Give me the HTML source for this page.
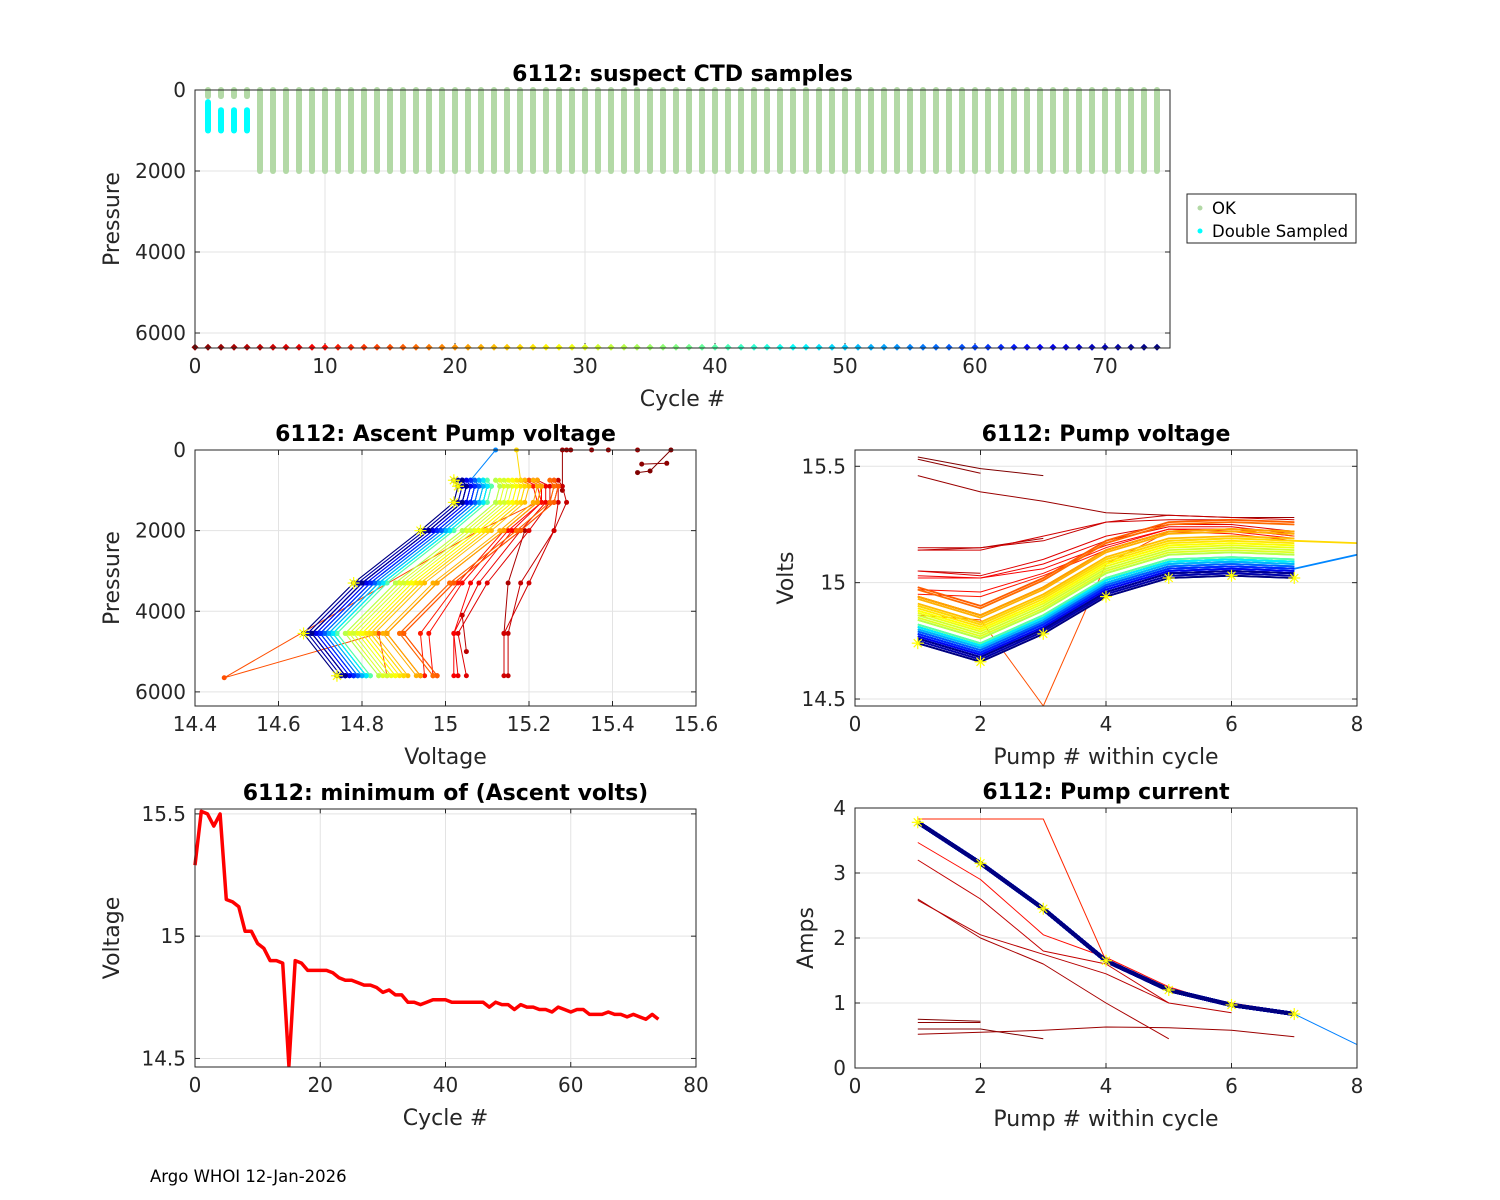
<!DOCTYPE html>
<html><head><meta charset="utf-8">
<style>
html,body{margin:0;padding:0;background:#fff;}
svg{display:block;font-family:"DejaVu Sans","Liberation Sans",sans-serif;}
</style></head>
<body>
<svg id="fig" width="1500" height="1200" viewBox="0 0 1500 1200" xmlns="http://www.w3.org/2000/svg">
<rect x="0" y="0" width="1500" height="1200" fill="#fff"/>
<text x="150" y="1182" font-size="16.5" fill="#000">Argo WHOI 12-Jan-2026</text>
</svg>
<script>
// ---------------- data ----------------
const nCycles = 75;
const cycleTicks = [0,10,20,30,40,50,60,70];
// minimum ascent voltage per cycle (cycles 0..74)
const minVolt = [15.29,15.51,15.50,15.45,15.50,15.15,15.14,15.12,15.02,15.02,14.97,14.95,14.90,14.90,14.89,14.47,14.90,14.89,14.86,14.86,
14.86,14.86,14.85,14.83,14.82,14.82,14.81,14.80,14.80,14.79,14.77,14.78,14.76,14.76,14.73,14.73,14.72,14.73,14.74,14.74,
14.74,14.73,14.73,14.73,14.73,14.73,14.73,14.71,14.73,14.72,14.72,14.70,14.72,14.71,14.71,14.70,14.70,14.69,14.71,14.70,
14.69,14.70,14.70,14.68,14.68,14.68,14.69,14.68,14.68,14.67,14.68,14.67,14.66,14.68,14.66];
// pump voltage offset above the minimum, pumps 1..7
const pumpOffset = [0.08,0.0,0.12,0.28,0.36,0.37,0.36];
// anomalous early cycles (explicit pump voltages)
const earlyPumpV = {
 0:[15.54,15.49,15.46],
 1:[15.53,15.47],
 2:[15.46,15.39,15.35,15.30,15.29,15.28,15.28],
 3:[15.14,15.15,15.19],
 4:[15.05,15.04],
 5:[15.15,15.15,15.18,15.26,15.29,15.28,15.27],
 6:[15.14,15.14,15.20,15.26,15.27,15.27],
 7:[15.05,15.03,15.10,15.20,15.25,15.25,15.22],
 8:[15.03,15.02,15.08,15.18,15.24,15.24,15.21],
 9:[15.02,15.02,15.06,15.16,15.23,15.23,15.20],
 10:[14.97,14.96,15.04,15.15,15.23,15.22,15.19],
 11:[14.95,14.94,15.03,15.14,15.22,15.21,15.18],
 15:[14.86,14.84,14.47,15.08,15.22,15.23,15.20]
};
const pumpPressure = [5600,4550,3300,2000,1300,900,750];
const earlyPressure = {0:[0,520,560],1:[330,350],2:[0,0,0,0,0,0,1000],3:[4550,3300,2000],4:[5000,4100],15:[5600,4550,5650,2000,1300,900,750]};
const pumpCurrentProfile = [3.78,3.15,2.45,1.65,1.20,0.97,0.83];
const anomCurrents = [
 [0.75,0.72],[0.70,0.70],[0.60,0.60,0.45],[0.52,0.55,0.58,0.63,0.62,0.58,0.48],
 [2.60,2.00,1.60,1.00,0.45],[2.58,2.05,1.75,1.45,1.00,0.85],[3.20,2.60,1.80,1.60,1.00],
 [3.83,3.83,3.83,1.65,1.20,1.00,0.85],[3.47,2.90,2.05,1.70,1.25,0.95,0.85]];
const anomCurrentCycles = [0,1,0,2,3,4,5,12,10];
// cycles with an 8th pump (surface, pressure 0)
const pump8Cycles = [25,55];
const pump8Volt = [15.17,15.12];
// ---------------- helpers ----------------
const NS="http://www.w3.org/2000/svg", fig=document.getElementById('fig');
function el(tag, attrs, parent){const e=document.createElementNS(NS,tag);for(const k in attrs)e.setAttribute(k,attrs[k]);(parent||fig).appendChild(e);return e;}
function clamp(v){return Math.max(0,Math.min(1,v));}
function jet(c){const t=1-c/(nCycles-1);const r=clamp(1.5-Math.abs(4*t-3)),g=clamp(1.5-Math.abs(4*t-2)),b=clamp(1.5-Math.abs(4*t-1));
 return 'rgb('+Math.round(r*255)+','+Math.round(g*255)+','+Math.round(b*255)+')';}
function pumpV(c){ if(earlyPumpV[c]) return earlyPumpV[c]; return pumpOffset.map(o=>+(minVolt[c]+o).toFixed(3)); }
function pumpP(c){ return earlyPressure[c]||pumpPressure; }
function axes(o){
 const g=el('g',{});
 const sx=v=>o.x0+(v-o.xmin)/(o.xmax-o.xmin)*(o.x1-o.x0);
 const sy=o.rev? v=>o.y0+(v-o.ymin)/(o.ymax-o.ymin)*(o.y1-o.y0) : v=>o.y1-(v-o.ymin)/(o.ymax-o.ymin)*(o.y1-o.y0);
 el('rect',{x:o.x0,y:o.y0,width:o.x1-o.x0,height:o.y1-o.y0,fill:'#fff'},g);
 o.xt.forEach(t=>{const x=sx(t);
  const l=el('line',{x1:x,x2:x,y1:o.y0,y2:o.y1,stroke:'#e3e3e3','stroke-width':1},g);
  el('line',{x1:x,x2:x,y1:o.y1,y2:o.y1-5,stroke:'#262626'},g);el('line',{x1:x,x2:x,y1:o.y0,y2:o.y0+5,stroke:'#262626'},g);
  const tx=el('text',{x:x,y:o.y1+25,'font-size':20,'text-anchor':'middle',fill:'#262626'},g);tx.textContent=t;
  });
 o.yt.forEach((t,i)=>{const y=sy(t);
  const l=el('line',{x1:o.x0,x2:o.x1,y1:y,y2:y,stroke:'#e3e3e3','stroke-width':1},g);
  el('line',{x1:o.x0,x2:o.x0+5,y1:y,y2:y,stroke:'#262626'},g);el('line',{x1:o.x1,x2:o.x1-5,y1:y,y2:y,stroke:'#262626'},g);
  const tx=el('text',{x:o.x0-9,y:y+7,'font-size':20,'text-anchor':'end',fill:'#262626'},g);tx.textContent=t;
  });
 const tt=el('text',{x:(o.x0+o.x1)/2,y:o.y0-9,'font-size':22,'font-weight':'bold','text-anchor':'middle',fill:'#000'},g);tt.textContent=o.title;
 
 const xl=el('text',{x:(o.x0+o.x1)/2,y:o.y1+58,'font-size':22,'text-anchor':'middle',fill:'#262626'},g);xl.textContent=o.xlabel;
 
 const yx=o.x0-o.ylOff, yy=(o.y0+o.y1)/2;
 const yl=el('text',{x:yx,y:yy,'font-size':22,'text-anchor':'middle',fill:'#262626',transform:'rotate(-90 '+yx+' '+yy+')'},g);yl.textContent=o.ylabel;
 
 const plot=el('g',{},g);
 o.finish=()=>{const b=el('rect',{x:o.x0,y:o.y0,width:o.x1-o.x0,height:o.y1-o.y0,fill:'none',stroke:'#262626','stroke-width':1},g);};
 return {sx,sy,plot,o};
}
function poly(parent,pts,color,w,name){const p=el('polyline',{points:pts.map(q=>q[0].toFixed(1)+','+q[1].toFixed(1)).join(' '),fill:'none',stroke:color,'stroke-width':w,'stroke-linejoin':'round'},parent);
 return p;}
function star(parent,x,y){const g=el('g',{stroke:'#ffff00','stroke-width':1.2},parent);
 el('line',{x1:x-6,x2:x+6,y1:y,y2:y},g);el('line',{x1:x,x2:x,y1:y-6,y2:y+6},g);el('line',{x1:x-4,x2:x+4,y1:y-4,y2:y+4},g);el('line',{x1:x-4,x2:x+4,y1:y+4,y2:y-4},g);}
// ---------------- top: suspect CTD samples ----------------
(function(){
 const A=axes({name:'ctd-samples-chart',x0:195,x1:1170,y0:90,y1:348,xmin:0,xmax:75,ymin:0,ymax:6370,rev:true,xt:cycleTicks,yt:[0,2000,4000,6000],
  title:'6112: suspect CTD samples',xlabel:'Cycle #',ylabel:'Pressure',ylOff:76});
 for(let c=1;c<nCycles;c++){const x=A.sx(c);
  if(c<5){ const l=el('line',{x1:x,x2:x,y1:A.sy(0),y2:A.sy(150),stroke:'#b3d9a6','stroke-width':6,'stroke-linecap':'round'},A.plot);
   const d=el('line',{x1:x,x2:x,y1:A.sy(c==1?300:500),y2:A.sy(1000),stroke:'#00ffff','stroke-width':6,'stroke-linecap':'round'},A.plot);}
  else { const l=el('line',{x1:x,x2:x,y1:A.sy(0),y2:A.sy(2000),stroke:'#b3d9a6','stroke-width':6,'stroke-linecap':'round'},A.plot);}
 }
 for(let c=0;c<nCycles;c++){const x=A.sx(c),y=A.sy(6350);
  const d=el('path',{d:'M'+x+' '+(y-3.5)+'L'+(x+3.5)+' '+y+'L'+x+' '+(y+3.5)+'L'+(x-3.5)+' '+y+'Z',fill:jet(c)},A.plot);}
 A.o.finish();
 const lg=el('g',{});
 el('rect',{x:1187,y:194,width:169,height:49,fill:'#fff',stroke:'#262626'},lg);
 el('circle',{cx:1200,cy:208,r:2.5,fill:'#b3d9a6'},lg);el('circle',{cx:1200,cy:231,r:2.5,fill:'#00ffff'},lg);
 let t=el('text',{x:1212,y:214,'font-size':16.5,fill:'#000'},lg);t.textContent='OK';
 t=el('text',{x:1212,y:237,'font-size':16.5,fill:'#000'},lg);t.textContent='Double Sampled';
})();
// ---------------- middle-left: ascent pump voltage ----------------
(function(){
 const A=axes({name:'ascent-pump-voltage-chart',x0:195,x1:696,y0:450,y1:706,xmin:14.4,xmax:15.6,ymin:0,ymax:6350,rev:true,xt:[14.4,14.6,14.8,15,15.2,15.4,15.6],yt:[0,2000,4000,6000],
  title:'6112: Ascent Pump voltage',xlabel:'Voltage',ylabel:'Pressure',ylOff:76});
 for(let c=0;c<nCycles;c++){const v=pumpV(c),P=pumpP(c);const pts=v.map((vv,i)=>[A.sx(vv),A.sy(P[i])]);
  const k=pump8Cycles.indexOf(c); if(k>=0) pts.push([A.sx(pump8Volt[k]),A.sy(0)]);
  poly(A.plot,pts,jet(c),1,'ascent-cycle-line');
  pts.forEach(p=>{const d=el('circle',{cx:p[0],cy:p[1],r:2.5,fill:jet(c)},A.plot);});}
 pumpV(nCycles-1).forEach((v,i)=>star(A.plot,A.sx(v),A.sy(pumpPressure[i])));
 A.o.finish();
})();
// ---------------- middle-right: pump voltage ----------------
(function(){
 const A=axes({name:'pump-voltage-chart',x0:855,x1:1357,y0:450,y1:706,xmin:0,xmax:8,ymin:14.47,ymax:15.57,xt:[0,2,4,6,8],yt:[14.5,15,15.5],
  title:'6112: Pump voltage',xlabel:'Pump # within cycle',ylabel:'Volts',ylOff:62});
 for(let c=0;c<nCycles;c++){const v=pumpV(c);const pts=v.map((vv,i)=>[A.sx(i+1),A.sy(vv)]);
  const k=pump8Cycles.indexOf(c); if(k>=0) pts.push([A.sx(8),A.sy(pump8Volt[k])]);
  poly(A.plot,pts,jet(c),c>15?1.8:1,'pump-voltage-line');}
 pumpV(nCycles-1).forEach((v,i)=>star(A.plot,A.sx(i+1),A.sy(v)));
 A.o.finish();
})();
// ---------------- bottom-left: minimum ascent volts ----------------
(function(){
 const A=axes({name:'min-ascent-volts-chart',x0:195,x1:696,y0:809,y1:1067,xmin:0,xmax:80,ymin:14.465,ymax:15.52,xt:[0,20,40,60,80],yt:[14.5,15,15.5],
  title:'6112: minimum of (Ascent volts)',xlabel:'Cycle #',ylabel:'Voltage',ylOff:76});
 poly(A.plot,minVolt.map((v,c)=>[A.sx(c),A.sy(v)]),'#ff0000',3.5,'min-voltage-line');
 A.o.finish();
})();
// ---------------- bottom-right: pump current ----------------
(function(){
 const A=axes({name:'pump-current-chart',x0:855,x1:1357,y0:808,y1:1068,xmin:0,xmax:8,ymin:0,ymax:4,xt:[0,2,4,6,8],yt:[0,1,2,3,4],
  title:'6112: Pump current',xlabel:'Pump # within cycle',ylabel:'Amps',ylOff:42});
 anomCurrents.forEach((a,k)=>poly(A.plot,a.map((v,i)=>[A.sx(i+1),A.sy(v)]),jet(anomCurrentCycles[k]),1,'pump-current-anomaly'));
 for(let c=16;c<nCycles;c++){poly(A.plot,pumpCurrentProfile.map((v,i)=>[A.sx(i+1),A.sy(v)]),jet(c),c>40?4:2,'pump-current-line');}
 poly(A.plot,[[A.sx(7),A.sy(pumpCurrentProfile[6])],[A.sx(8),A.sy(0.36)]],'#0080ff',1,'pump-current-extra');
 pumpCurrentProfile.forEach((v,i)=>star(A.plot,A.sx(i+1),A.sy(v)));
 A.o.finish();
})();
</script>
</body></html>
